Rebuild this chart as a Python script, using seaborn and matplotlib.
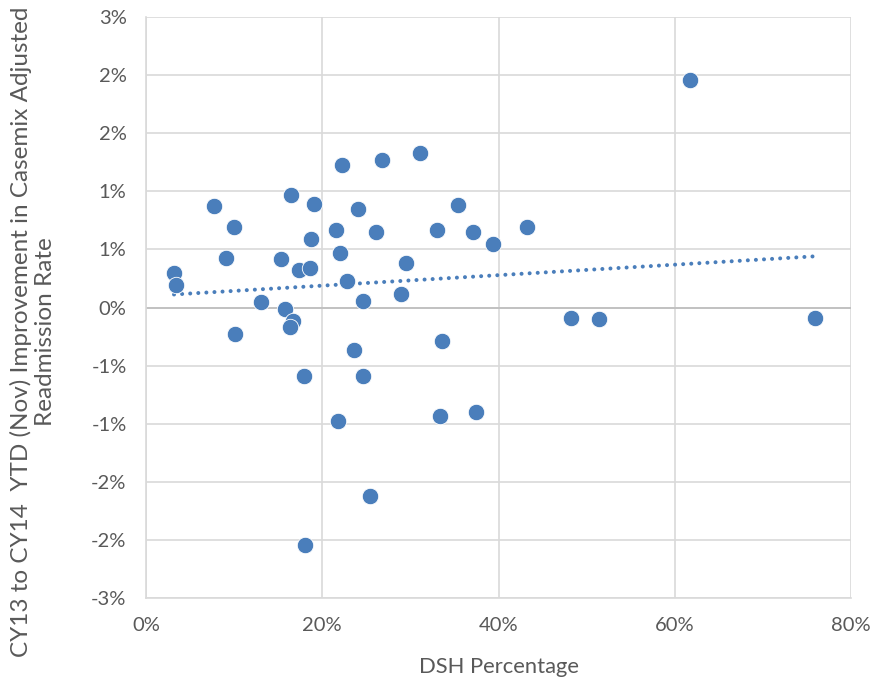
import numpy as np
import pandas as pd
import matplotlib
matplotlib.use("Agg")
import matplotlib.pyplot as plt
import matplotlib.ticker as mticker
import seaborn as sns

# DSH percentage (fraction) and readmission improvement (fraction)
dsh = [0.0318, 0.034, 0.077, 0.091, 0.100, 0.101, 0.1305, 0.153, 0.158, 0.1645,
       0.167, 0.163, 0.174, 0.179, 0.180, 0.186, 0.187, 0.191, 0.216, 0.218,
       0.220, 0.222, 0.228, 0.236, 0.241, 0.246, 0.246, 0.254, 0.261, 0.268,
       0.289, 0.295, 0.311, 0.330, 0.334, 0.336, 0.354, 0.371, 0.374, 0.394,
       0.432, 0.482, 0.514, 0.617, 0.759]
improvement = [0.0030, 0.0019, 0.0087, 0.0043, 0.0069, -0.0023, 0.0005, 0.0042, -0.0001, 0.0097,
               -0.0012, -0.0017, 0.0032, -0.0059, -0.0204, 0.0034, 0.0059, 0.0089, 0.0067, -0.0098,
               0.0047, 0.0123, 0.0023, -0.0037, 0.0085, 0.0006, -0.0059, -0.0162, 0.0065, 0.0127,
               0.0012, 0.0038, 0.0133, 0.0067, -0.0093, -0.0029, 0.0088, 0.0065, -0.0090, 0.0055,
               0.0069, -0.0009, -0.0010, 0.0196, -0.0009]

df = pd.DataFrame({"DSH": dsh, "Improvement": improvement})

blue = "#4A7EBB"
text_color = "#595959"

sns.set_style("white")
plt.rcParams["font.family"] = ["Lato", "DejaVu Sans"]

fig = plt.figure(figsize=(8.72, 6.83), dpi=100)
ax = fig.add_axes([146 / 872, 1 - 598 / 683, (851 - 146) / 872, (598 - 17) / 683])

# gridlines
ax.set_axisbelow(True)
ax.grid(True, color="#D9D9D9", linewidth=1.2)
ax.axhline(0, color="#BFBFBF", linewidth=1.3, zorder=1)

sns.scatterplot(data=df, x="DSH", y="Improvement", ax=ax, color=blue,
                s=140, edgecolor="white", linewidth=0.6, zorder=3, legend=False)

# linear trendline over the data range
slope, intercept = np.polyfit(df["DSH"], df["Improvement"], 1)
xs = np.array([df["DSH"].min(), df["DSH"].max()])
ax.plot(xs, slope * xs + intercept, color=blue, linestyle=(0, (0.01, 2.0)),
        linewidth=2.9, zorder=2, dash_capstyle="round")

ax.set_xlim(0, 0.8)
ax.set_ylim(-0.025, 0.025)
ax.xaxis.set_major_locator(mticker.MultipleLocator(0.2))
ax.yaxis.set_major_locator(mticker.MultipleLocator(0.005))


def x_fmt(v, pos):
    return f"{round(v * 100):d}%"


def y_fmt(v, pos):
    p = round(v * 100, 6)
    r = int(np.sign(p) * np.floor(abs(p) + 0.5))
    return f"{r}%"


ax.xaxis.set_major_formatter(mticker.FuncFormatter(x_fmt))
ax.yaxis.set_major_formatter(mticker.FuncFormatter(y_fmt))

for side in ["top", "right"]:
    ax.spines[side].set_visible(False)
ax.spines["left"].set_color("#D9D9D9")
ax.spines["bottom"].set_color("#D9D9D9")
ax.spines["left"].set_linewidth(1.2)
ax.spines["bottom"].set_linewidth(1.2)

ax.tick_params(axis="both", length=0, labelsize=14.5, colors=text_color)
ax.tick_params(axis="x", pad=14)
ax.tick_params(axis="y", pad=14)

ax.set_xlabel("DSH Percentage", fontsize=15.8, color=text_color, labelpad=16)
ax.set_ylabel("")
fig.text(33 / 872, 1 - 332 / 683,
         "CY13 to CY14  YTD (Nov) Improvement in Casemix Adjusted\nReadmission Rate",
         rotation=90, ha="center", va="center", multialignment="center",
         fontsize=17.5, color=text_color, linespacing=1.15)

fig.savefig("out.png", dpi=100)
